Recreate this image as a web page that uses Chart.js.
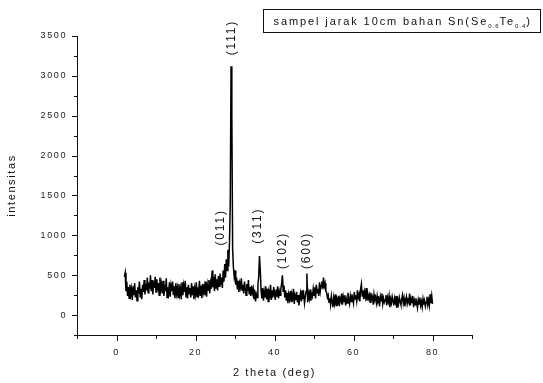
<!DOCTYPE html>
<html>
<head>
<meta charset="utf-8">
<script src="https://cdn.jsdelivr.net/npm/chart.js@4"></script>
<style>
  html, body { margin: 0; padding: 0; background: #fff; }
  #wrap { width: 543px; height: 383px; position: relative; }
</style>
</head>
<body>
<div id="wrap"><canvas id="xrd"></canvas></div>
<script>
// scan grid: 2 theta from 2 deg, one reading every 0.2 deg
const thetaStart = 2;
const thetaStep = 0.2;

// intensities, 10 readings (2 deg) per row
const intensity = [
  480, 530, 300, 420, 240, 350, 210, 380, 260, 330,
  190, 360, 250, 400, 220, 310, 180, 350, 270, 420,
  230, 330, 200, 380, 290, 440, 260, 390, 310, 470,
  280, 410, 330, 500, 300, 440, 260, 420, 340, 480,
  290, 450, 310, 400, 250, 470, 320, 390, 270, 430,
  240, 380, 300, 460, 220, 350, 280, 410, 230, 370,
  300, 420, 250, 360, 210, 400, 270, 340, 220, 390,
  260, 330, 200, 410, 250, 370, 290, 430, 230, 350,
  210, 380, 270, 340, 220, 400, 250, 360, 200, 330,
  260, 410, 230, 350, 280, 430, 240, 370, 210, 390,
  290, 360, 250, 420, 230, 380, 310, 440, 270, 400,
  330, 560, 350, 480, 300, 510, 340, 450, 310, 490,
  360, 520, 380, 470, 340, 560, 420, 640, 470, 700,
  560, 820, 610, 900, 1410, 3120, 2510, 830, 600, 480,
  560, 380, 470, 320, 430, 290, 400, 350, 460, 310,
  380, 270, 420, 330, 250, 390, 300, 440, 260, 350,
  240, 370, 280, 330, 200, 310, 170, 260, 220, 380,
  480, 740, 560, 310, 210, 340, 180, 300, 230, 360,
  200, 330, 170, 290, 250, 380, 190, 310, 220, 350,
  270, 190, 320, 230, 360, 210, 300, 250, 330, 390,
  500, 300, 370, 220, 310, 180, 280, 150, 260, 200,
  300, 170, 260, 220, 330, 140, 240, 190, 290, 160,
  250, 120, 230, 280, 170, 310, 200, 260, 150, 230,
  300, 520, 160, 270, 210, 320, 180, 260, 230, 330,
  250, 350, 210, 380, 280, 330, 240, 410, 300, 370,
  420, 330, 470, 360, 400, 300, 280, 220, 250, 160,
  210, 130, 240, 170, 100, 220, 150, 260, 120, 200,
  160, 240, 110, 210, 180, 270, 130, 230, 170, 250,
  120, 200, 150, 280, 190, 140, 240, 170, 260, 210,
  150, 290, 200, 250, 180, 310, 220, 260, 170, 330,
  390, 240, 310, 200, 290, 230, 340, 180, 270, 210,
  250, 160, 280, 200, 230, 130, 260, 190, 220, 150,
  240, 170, 200, 110, 230, 180, 270, 140, 210, 160,
  190, 250, 120, 220, 170, 240, 100, 200, 150, 230,
  180, 120, 210, 160, 240, 90, 190, 140, 220, 170,
  130, 200, 250, 150, 210, 110, 180, 230, 140, 190,
  160, 270, 120, 200, 150, 240, 100, 180, 130, 210,
  150, 90, 190, 140, 220, 120, 170, 100, 200, 130,
  180, 110, 160, 230, 130, 190, 120, 260, 150, 240,
  140,
];

// axes
const xMin = -10;
const xMax = 90;
const xTicks = [0, 20, 40, 60, 80];
const xMinorTicks = [-10, 10, 30, 50, 70, 90];
const yMin = -250;
const yMax = 3500;
const yTicks = [0, 500, 1000, 1500, 2000, 2500, 3000, 3500];
const yMinorTicks = [-250, 250, 750, 1250, 1750, 2250, 2750, 3250];

// peak indexing labels (x in deg, y in counts, centre of the text)
const peakNames = ["(111)", "(011)", "(311)", "(102)", "(600)"];
const peakTheta = [29.1, 26.3, 35.7, 42.0, 48.1];
const peakLabelY = [3480, 1100, 1120, 810, 810];

const legendParts = [
  { text: "sampel jarak 10cm bahan Sn(Se", sub: false },
  { text: "0.6", sub: true },
  { text: "Te", sub: false },
  { text: "0.4", sub: true },
  { text: ")", sub: false },
];

const FONT = "'Liberation Sans', Arial, sans-serif";
const points = intensity.map((v, i) => ({
  x: +(thetaStart + i * thetaStep).toFixed(1),
  y: v,
}));

const spacingPlugin = {
  id: "spacing",
  beforeDraw(chart) {
    chart.ctx.letterSpacing = "1.6px";
  },
};

const tickMarks = {
  id: "tickMarks",
  afterDraw(chart) {
    const { ctx, chartArea } = chart;
    const xs = chart.scales.x;
    const ys = chart.scales.y;
    ctx.save();
    ctx.strokeStyle = "#111";
    ctx.lineWidth = 1;
    ctx.beginPath();
    const xTick = (v, len) => {
      const px = Math.round(xs.getPixelForValue(v)) + 0.5;
      ctx.moveTo(px, chartArea.bottom);
      ctx.lineTo(px, chartArea.bottom + len);
    };
    const yTick = (v, len) => {
      const py = Math.round(ys.getPixelForValue(v)) + 0.5;
      ctx.moveTo(chartArea.left, py);
      ctx.lineTo(chartArea.left - len, py);
    };
    xTicks.forEach((v) => xTick(v, 6));
    xMinorTicks.forEach((v) => xTick(v, 4));
    yTicks.forEach((v) => yTick(v, 5));
    yMinorTicks.forEach((v) => yTick(v, 3));
    ctx.stroke();
    ctx.restore();
  },
};

const peakText = {
  id: "peakText",
  afterDraw(chart) {
    const { ctx } = chart;
    const xs = chart.scales.x;
    const ys = chart.scales.y;
    ctx.save();
    ctx.fillStyle = "#111";
    ctx.font = "12px " + FONT;
    ctx.letterSpacing = "1.8px";
    ctx.textAlign = "center";
    ctx.textBaseline = "middle";
    peakNames.forEach((name, i) => {
      ctx.save();
      ctx.translate(xs.getPixelForValue(peakTheta[i]), ys.getPixelForValue(peakLabelY[i]));
      ctx.rotate(-Math.PI / 2);
      ctx.fillText(name, 0, 0);
      ctx.restore();
    });
    ctx.restore();
  },
};

const legendBox = {
  id: "legendBox",
  afterDraw(chart) {
    const { ctx } = chart;
    const boxLeft = 263.5;
    const boxTop = 9.5;
    const boxRight = chart.width - 2.5;
    const boxBottom = 32.5;
    ctx.save();
    ctx.strokeStyle = "#111";
    ctx.lineWidth = 1;
    ctx.strokeRect(boxLeft, boxTop, boxRight - boxLeft, boxBottom - boxTop);
    ctx.fillStyle = "#111";
    ctx.textBaseline = "alphabetic";
    ctx.textAlign = "left";
    let x = boxLeft + 10;
    const base = 25;
    legendParts.forEach((part) => {
      if (part.sub) {
        ctx.font = "6px " + FONT;
        ctx.letterSpacing = "1px";
        ctx.fillText(part.text, x, base + 3);
      } else {
        ctx.font = "11px " + FONT;
        ctx.letterSpacing = "1.9px";
        ctx.fillText(part.text, x, base);
      }
      x += ctx.measureText(part.text).width;
    });
    ctx.restore();
  },
};

new Chart(document.getElementById("xrd"), {
  type: "line",
  data: {
    datasets: [
      {
        data: points,
        borderColor: "#000",
        borderWidth: 1.5,
        pointRadius: 0,
        tension: 0,
        fill: false,
      },
    ],
  },
  options: {
    responsive: true,
    maintainAspectRatio: false,
    animation: false,
    devicePixelRatio: 1,
    layout: { padding: { left: 0, top: 36, right: 71, bottom: 0 } },
    plugins: {
      legend: { display: false },
      tooltip: { enabled: false },
    },
    scales: {
      x: {
        type: "linear",
        min: xMin,
        max: xMax,
        afterBuildTicks(scale) {
          scale.ticks = xTicks.map((v) => ({ value: v }));
        },
        afterFit(scale) {
          scale.height = 48;
        },
        grid: { display: false, drawTicks: false },
        border: { display: true, color: "#111", width: 1 },
        ticks: {
          padding: 12,
          color: "#222",
          font: { family: FONT, size: 9 },
          maxRotation: 0,
          callback: (v) => String(v),
        },
        title: {
          display: true,
          text: "2 theta (deg)",
          color: "#111",
          font: { family: FONT, size: 11 },
          padding: { top: 0, bottom: 3 },
        },
      },
      y: {
        type: "linear",
        min: yMin,
        max: yMax,
        afterBuildTicks(scale) {
          scale.ticks = yTicks.map((v) => ({ value: v }));
        },
        afterFit(scale) {
          scale.width = 77;
        },
        grid: { display: false, drawTicks: false },
        border: { display: true, color: "#111", width: 1 },
        ticks: {
          padding: 10,
          color: "#222",
          font: { family: FONT, size: 9 },
          callback: (v) => String(v),
        },
        title: {
          display: true,
          text: "intensitas",
          color: "#111",
          font: { family: FONT, size: 11 },
          padding: { top: 5, bottom: 0 },
        },
      },
    },
  },
  plugins: [spacingPlugin, tickMarks, peakText, legendBox],
});
</script>
</body>
</html>
